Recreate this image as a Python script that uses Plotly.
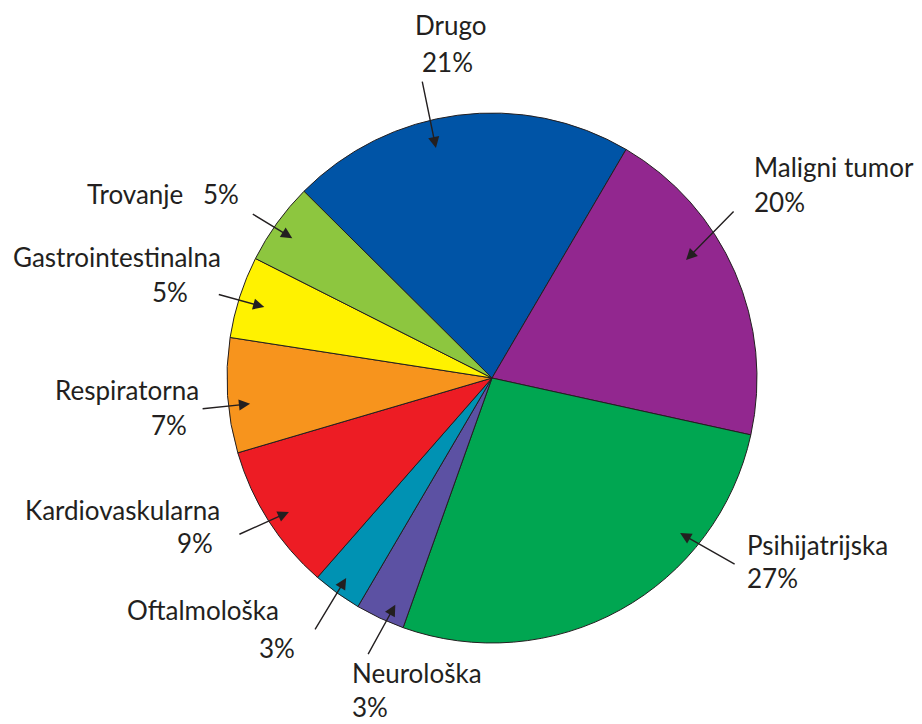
import plotly.graph_objects as go
import math

# ---- data ----
labels = ["Drugo", "Maligni tumor", "Psihijatrijska", "Neurološka", "Oftalmološka",
          "Kardiovaskularna", "Respiratorna", "Gastrointestinalna", "Trovanje"]
values = [21, 20, 27, 3, 3, 9, 7, 5, 5]
colors = ["#0054a6", "#92278f", "#00a651", "#5c51a3", "#0092b3",
          "#ed1c24", "#f7941d", "#fff200", "#8dc63f"]

# ---- layout constants (pixels) ----
W, H = 922, 724
CX, CY, R = 492, 378, 265
ROTATION = -45.2
FONT = "Lato, 'Liberation Sans', sans-serif"
FS = 26
INK = "#231f20"

# arrow styling per slice: (angle offset from slice middle, radius fraction, tail dx, tail dy)
arrow_style = [(-6.3, 0.893, -14, -68), (-7.7, 0.857, 49, -50), (-21.5, 0.92, 56, 32),
               (-1.9, 0.93, -28, 51), (0.3, 0.934, -32, 53), (-0.8, 0.918, -51, 23),
               (-2.3, 0.918, -49, 5), (-0.5, 0.90, -47, -13), (-0.8, 0.92, -41, -25)]
# text placement per slice: name (x, y, anchor), percentage (x, y, anchor) or None = stacked block
text_style = [((451, 25, "center"), (447, 62, "center")),
              ((752, 167, "left"), (752, 202, "left")),
              ((745, 545, "left"), (745, 578, "left")),
              ((350, 690, "left"), None),
              ((281, 610, "right"), (297, 648, "right")),
              ((222, 510, "right"), (215, 543, "right")),
              ((201, 390, "right"), (189, 425, "right")),
              ((223, 257, "right"), (190, 292, "right")),
              ((185, 194, "right"), (201, 194, "left"))]


def px(x):
    return x / W


def py(y):
    return 1 - y / H


fig = go.Figure(go.Pie(
    labels=labels, values=values, sort=False, direction="clockwise",
    rotation=ROTATION, textinfo="none", hoverinfo="label+percent",
    marker=dict(colors=colors, line=dict(color=INK, width=1)),
    domain=dict(x=[px(CX - R), px(CX + R)], y=[py(CY + R), py(CY - R)]),
    showlegend=False,
))

annotations = []
total = sum(values)
cum = 0
for lab, v, (doff, rf, tdx, tdy), (nm, pc) in zip(labels, values, arrow_style, text_style):
    mid = ROTATION + (cum + v / 2) / total * 360
    cum += v
    a = math.radians(mid + doff)
    tx = CX + rf * R * math.sin(a)
    ty = CY - rf * R * math.cos(a)
    annotations.append(dict(x=px(tx), y=py(ty), xref="paper", yref="paper", text="",
                            showarrow=True, ax=tdx, ay=tdy, arrowhead=2, arrowsize=1.6,
                            arrowwidth=1.4, arrowcolor=INK))
    items = [(f"{lab}<br>{v}%", nm)] if pc is None else [(lab, nm), (f"{v}%", pc)]
    for txt, (x, y, anc) in items:
        annotations.append(dict(x=px(x), y=py(y), xref="paper", yref="paper", text=txt,
                                showarrow=False, xanchor=anc, yanchor="middle", align=anc if anc != "center" else "center",
                                font=dict(family=FONT, size=FS, color=INK)))

fig.update_layout(width=W, height=H, margin=dict(l=0, r=0, t=0, b=0),
                  paper_bgcolor="white", plot_bgcolor="white", annotations=annotations)
fig.write_html("out.html")
